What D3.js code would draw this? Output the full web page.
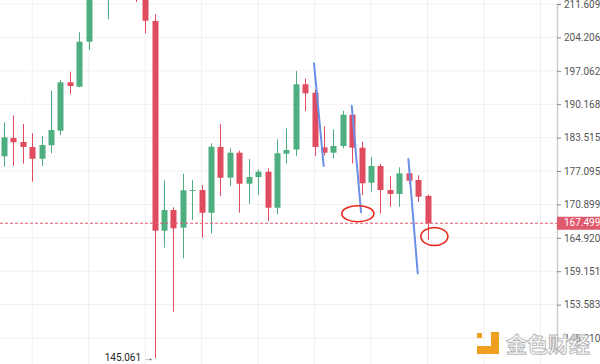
<!DOCTYPE html>
<html>
<head>
<meta charset="utf-8">
<script src="https://cdn.jsdelivr.net/npm/d3@7"></script>
<style>
  body { margin: 0; background: #fff; }
  svg { display: block; font-family: Roboto, "Noto Sans", sans-serif; }
</style>
</head>
<body>
<div id="chart"></div>
<script>
// Candle Data (index 0 = leftmost session)
const open  = [179.89, 183.44, 182.66, 181.69, 179.43, 182.02, 184.87, 194.66, 193.75, 203.27,
               214.33, 213.65, 220.59, 216.63, 221.77, 213.88, 207.81, 166.17, 169.88, 166.71,
               173.45, 173.54, 169.39, 181.69, 175.83, 180.58, 174.71, 175.96, 176.96, 170.30,
               180.39, 181.20, 194.25, 192.51, 181.63, 180.58, 181.88, 188.05, 181.55, 174.90,
               178.04, 173.54, 172.81, 176.66, 175.40, 172.44];
const high  = [186.53, 187.93, 186.20, 184.36, 183.83, 192.92, 195.14, 196.87, 205.32, 217.09,
               221.77, 222.96, 223.67, 224.63, 223.20, 214.79, 209.30, 175.35, 170.37, 176.59,
               175.40, 174.47, 182.40, 186.20, 181.43, 180.97, 179.37, 177.42, 177.61, 183.18,
               185.34, 197.02, 195.41, 193.07, 185.70, 185.15, 188.86, 188.59, 182.71, 179.76,
               178.42, 176.15, 177.80, 177.47, 176.29, 172.68];
const low   = [177.91, 178.10, 178.48, 175.09, 178.04, 180.47, 184.02, 192.19, 193.63, 201.48,
               213.19, 208.19, 213.88, 214.79, 212.06, 205.10, 145.061, 163.19, 152.42, 161.35,
               168.08, 164.94, 165.68, 172.44, 174.29, 169.39, 170.97, 172.62, 167.90, 169.11,
               178.55, 179.95, 188.79, 179.95, 180.05, 179.51, 181.43, 178.55, 172.62, 173.23,
               169.29, 170.48, 170.48, 174.66, 171.39, 164.53];
const close = [183.57, 182.60, 181.69, 179.43, 182.07, 185.01, 194.66, 193.89, 203.27, 213.65,
               219.35, 220.59, 216.63, 221.77, 215.25, 207.87, 166.17, 169.88, 166.60, 173.49,
               173.54, 169.39, 181.74, 175.83, 180.58, 174.71, 175.96, 176.96, 170.30, 180.47,
               181.10, 194.25, 192.39, 181.69, 180.58, 181.88, 188.05, 181.55, 174.79, 178.04,
               173.54, 172.81, 176.66, 175.27, 172.31, 167.499];

const lastPrice = 167.499;
const lowMark = { index: 16, price: 145.061 };
const priceTicks = [211.609, 204.206, 197.062, 190.168, 183.515, 177.095, 170.899, 164.920, 159.151, 153.583, 148.210];
const gridIndex = [3, 9, 15, 21, 27, 33, 39, 45, 51, 57];

// Hand Drawn Annotations: Trend Strokes And Circled Spots
const strokes = [
  [[32.94, 198.64], [33.97, 178.04]],
  [[36.95, 189.86], [37.94, 169.47]],
  [[42.97, 179.37], [43.96, 158.80]]
];
const circles = [[37.6, 169.21], [45.73, 165.15]];

// Dimensions
let w = 600, h = 364, axisX = 557;
let up = "#4fae80", down = "#e04b5f";

let svg = d3.select("#chart").append("svg").attr("width", w).attr("height", h);

let x = d3.scaleLinear().domain([0, 45]).range([4, 427.5]);
let y = d3.scaleLog().domain([148.21, 211.609]).range([338, 4]);

// Grid
svg.append("g").selectAll("line").data(priceTicks).enter().append("line")
  .attr("x1", 0).attr("x2", axisX).attr("y1", d => y(d)).attr("y2", d => y(d))
  .attr("stroke", "#f0f0f0");
svg.append("g").selectAll("line").data(gridIndex).enter().append("line")
  .attr("x1", d => x(d)).attr("x2", d => x(d)).attr("y1", 0).attr("y2", h)
  .attr("stroke", "#f0f0f0");

// Candles
svg.append("clipPath").attr("id", "plot").append("rect").attr("width", axisX).attr("height", h);
let candles = svg.append("g").attr("clip-path", "url(#plot)");
let idx = d3.range(open.length);
candles.selectAll("line").data(idx).enter().append("line")
  .attr("x1", i => Math.round(x(i)) + 0.5).attr("x2", i => Math.round(x(i)) + 0.5)
  .attr("y1", i => y(high[i])).attr("y2", i => y(low[i]))
  .attr("stroke", i => close[i] >= open[i] ? up : down);
candles.selectAll("rect").data(idx).enter().append("rect")
  .attr("x", i => Math.round(x(i)) - 2.5).attr("width", 6)
  .attr("y", i => y(Math.max(open[i], close[i])))
  .attr("height", i => Math.max(1, y(Math.min(open[i], close[i])) - y(Math.max(open[i], close[i]))))
  .attr("fill", i => close[i] >= open[i] ? up : down);

// Current Price Line
svg.append("line").attr("x1", 0).attr("x2", axisX)
  .attr("y1", y(lastPrice)).attr("y2", y(lastPrice))
  .attr("stroke", "#e05a6e").attr("stroke-dasharray", "3,2");

// Low Marker
svg.append("text").attr("x", x(lowMark.index) - 1).attr("y", y(lowMark.price))
  .attr("text-anchor", "end").attr("dominant-baseline", "middle")
  .attr("font-size", 10).attr("fill", "#222").text(lowMark.price.toFixed(3) + " \u2192");

// Annotations
svg.append("g").selectAll("line").data(strokes).enter().append("line")
  .attr("x1", d => x(d[0][0])).attr("y1", d => y(d[0][1]))
  .attr("x2", d => x(d[1][0])).attr("y2", d => y(d[1][1]))
  .attr("stroke", "#6a8fe6").attr("stroke-width", 2).attr("stroke-linecap", "round");
svg.append("g").selectAll("ellipse").data(circles).enter().append("ellipse")
  .attr("cx", d => x(d[0])).attr("cy", d => y(d[1]))
  .attr("rx", (d, i) => i == 0 ? 16 : 13.5).attr("ry", (d, i) => i == 0 ? 8 : 9)
  .attr("fill", "none").attr("stroke", "#e8291e").attr("stroke-width", 1.6);

// Right Price Axis
let axis = svg.append("g").attr("transform", `translate(${axisX},0)`)
  .call(d3.axisRight(y).tickValues(priceTicks).tickFormat(d3.format(".3f")).tickSize(4).tickPadding(3));
axis.select(".domain").attr("stroke", "#cfcfcf").attr("stroke-width", 1.5);
axis.selectAll(".tick line").attr("stroke", "#888");
axis.selectAll("text").attr("font-size", 10).attr("fill", "#555").attr("font-family", "Roboto, sans-serif");

// Last Price Label
svg.append("rect").attr("x", axisX).attr("y", y(lastPrice) - 6.5).attr("width", w - axisX).attr("height", 13)
  .attr("fill", "#e05a6e");
svg.append("text").attr("x", axisX + 7).attr("y", y(lastPrice)).attr("dominant-baseline", "middle")
  .attr("font-size", 10).attr("fill", "#fff").text(lastPrice.toFixed(3));

// Watermark
let wm = svg.append("g").attr("transform", "translate(477,332)");
wm.append("rect").attr("x", 0).attr("y", 1).attr("width", 5).attr("height", 5).attr("fill", "#f0a020");
wm.append("rect").attr("x", 14).attr("y", 0).attr("width", 8).attr("height", 22).attr("fill", "#f0a020");
wm.append("rect").attr("x", 0).attr("y", 14).attr("width", 22).attr("height", 8).attr("fill", "#f0a020");
wm.append("text").attr("x", 29).attr("y", 20).attr("font-size", 21)
  .attr("font-family", "'Noto Sans CJK SC', sans-serif").attr("font-weight", "bold")
  .attr("fill", "#fff").attr("fill-opacity", 0.75).attr("stroke", "#b8b8b8").attr("stroke-width", 1)
  .text("金色财经");
</script>
</body>
</html>
